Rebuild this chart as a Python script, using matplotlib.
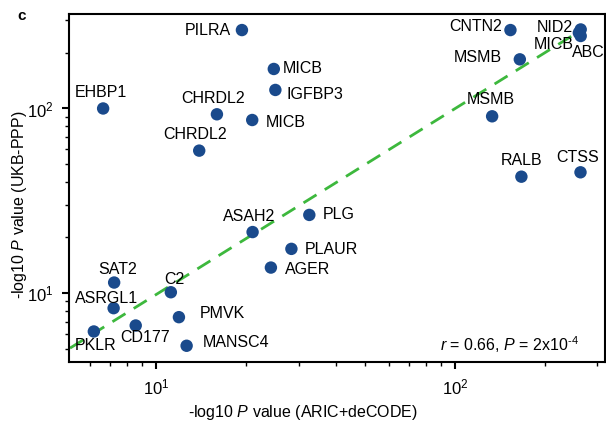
import matplotlib
matplotlib.use("Agg")
import matplotlib.pyplot as plt
from matplotlib.ticker import LogLocator, NullFormatter

plt.rcParams['font.family'] = ['Liberation Sans', 'DejaVu Sans']
plt.rcParams['mathtext.fontset'] = 'custom'
plt.rcParams['mathtext.rm'] = 'Liberation Sans'
plt.rcParams['mathtext.it'] = 'Liberation Sans:italic'

# Data
proteins = ["PILRA", "MICB", "IGFBP3", "EHBP1", "CHRDL2", "MICB", "CHRDL2",
            "CNTN2", "NID2", "MICB", "ABC", "MSMB", "MSMB", "RALB", "CTSS",
            "PLG", "PLAUR", "AGER", "ASAH2", "SAT2", "C2", "ASRGL1", "PMVK",
            "CD177", "PKLR", "MANSC4"]
aric_decode = [19.4, 24.8, 25.1, 6.66, 16.0, 21.0, 13.96,
               153.5, 263.7, 260.0, 263.7, 165.0, 133.3, 167.0, 263.3,
               32.6, 28.4, 24.25, 21.06, 7.25, 11.22, 7.22, 11.94,
               8.56, 6.20, 12.67]
ukb_ppp = [266, 163.7, 126, 100, 93, 86.6, 59.1,
           266, 268, 257, 247, 184.6, 90.7, 42.7, 45.1,
           26.5, 17.35, 13.74, 21.4, 11.4, 10.1, 8.28, 7.40,
           6.67, 6.19, 5.18]
# label offsets in pixels (dx, dy) and alignment
label_pos = [(-11, 0, 'right', 'center'), (9, 0, 'left', 'center'), (11, -5, 'left', 'center'),
             (-2, 16, 'center', 'center'), (-4, 16, 'center', 'center'), (14, -2, 'left', 'center'),
             (-4, 16, 'center', 'center'),
             (-8, 4, 'right', 'center'), (-8, 2, 'right', 'center'), (-25, -12, 'center', 'center'),
             (-9, -17, 'left', 'center'), (-18, 2, 'right', 'center'), (-1, 17, 'center', 'center'),
             (0, 16, 'center', 'center'), (-3, 15, 'center', 'center'),
             (13, 0, 'left', 'center'), (13, -1, 'left', 'center'), (14, -2, 'left', 'center'),
             (-3, 16, 'center', 'center'), (3, 13, 'center', 'center'), (4, 13, 'center', 'center'),
             (-7, 10, 'center', 'center'), (21, 4, 'left', 'center'),
             (9, -12, 'center', 'center'), (2, -14, 'center', 'center'), (16, 3, 'left', 'center')]

fit_x = [5.16, 258.0]
fit_y = [5.03, 259.0]

xlim = (5.12, 318)
ylim = (4.23, 325)

fig = plt.figure(figsize=(6.06, 4.22), dpi=100)
ax = fig.add_axes([69/606, 1 - 362/422, (605 - 69)/606, (362 - 14)/422])

ax.plot(fit_x, fit_y, linestyle=(0, (5.5, 3.5)), color='#3db83d', lw=2.0, zorder=1)
ax.scatter(aric_decode, ukb_ppp, s=80, color='#1a4a8c', edgecolors='none', zorder=2)

for name, x, y, (dx, dy, ha, va) in zip(proteins, aric_decode, ukb_ppp, label_pos):
    ax.annotate(name, (x, y), xytext=(dx, dy), textcoords='offset pixels',
                ha=ha, va=va, fontsize=11.5, color='black', zorder=3)

ax.set_xscale('log')
ax.set_yscale('log')
ax.set_xlim(*xlim)
ax.set_ylim(*ylim)

for a in (ax.xaxis, ax.yaxis):
    a.set_major_locator(LogLocator(base=10, numticks=10))
    a.set_minor_locator(LogLocator(base=10, subs=range(2, 10), numticks=20))
    a.set_minor_formatter(NullFormatter())

ax.tick_params(axis='both', which='major', direction='out', length=5, width=1.5,
               labelsize=12, pad=6)
ax.tick_params(axis='both', which='minor', direction='out', length=3, width=1)
for sp in ax.spines.values():
    sp.set_linewidth(1.5)

ax.set_xlabel('-log10 $\\mathit{P}$ value (ARIC+deCODE)', fontsize=11.5)
ax.set_ylabel('-log10 $\\mathit{P}$ value (UKB-PPP)', fontsize=11.5)
ax.xaxis.set_label_coords(0.4375, -0.1437)
ax.yaxis.set_label_coords(-0.093, 0.451)
ax.xaxis.label.set_va('center')
ax.yaxis.label.set_va('center')

ax.text(0.951, 0.049, '$\\mathit{r}$ = 0.66, $\\mathit{P}$ = 2x10$^{\\text{-}4}$', transform=ax.transAxes,
        ha='right', va='center', fontsize=11.5)

fig.text(22/606, 1 - 16/422, 'c', fontsize=11, fontweight='bold', ha='center', va='center')

fig.savefig('out.png', dpi=100)
